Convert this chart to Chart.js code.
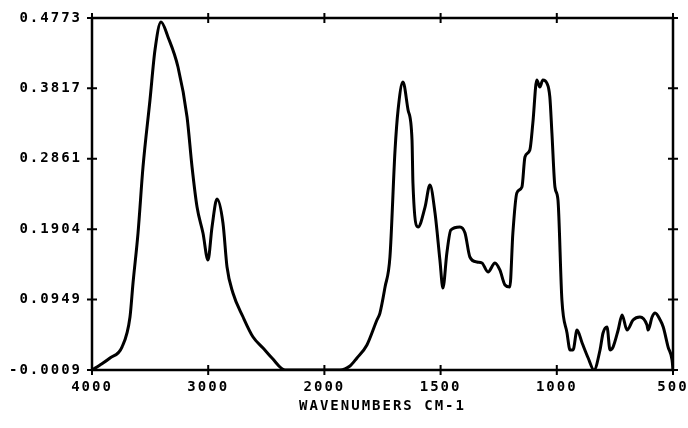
<!DOCTYPE html>
<html>
<head>
<meta charset="utf-8">
<script src="https://cdn.jsdelivr.net/npm/chart.js@4/dist/chart.umd.min.js"></script>
<style>
  html, body { margin: 0; padding: 0; background: #fff; }
  #wrap { width: 688px; height: 428px; }
</style>
</head>
<body>
<div id="wrap"><canvas id="ir"></canvas></div>
<script>
/* ── DATA ── */
const xTickValues = [4000, 3000, 2000, 1500, 1000, 500];
const xTickLabels = ['4000', '3000', '2000', '1500', '1000', '500'];
const yTickValues = [-0.0009, 0.0949, 0.1904, 0.2861, 0.3817, 0.4773];
const yTickLabels = ['-0.0009', '0.0949', '0.1904', '0.2861', '0.3817', '0.4773'];

const wavenumbers = [
  4000, 3931, 3845, 3742, 3673, 3647, 3604, 3561, 3501, 3458, 3406, 3346, 3260, 3182,
  3139, 3096, 3045, 3002, 2967, 2924, 2873, 2838, 2787, 2700, 2614, 2528, 2451, 2339,
  2209, 2037, 1933, 1890, 1860, 1817, 1774, 1761, 1739, 1718, 1696, 1683, 1662, 1640,
  1623, 1619, 1597, 1567, 1546, 1524, 1503, 1490, 1473, 1456, 1417, 1395, 1374, 1344,
  1322, 1296, 1266, 1245, 1223, 1202, 1189, 1172, 1150, 1137, 1116, 1103, 1086, 1073,
  1060, 1043, 1030, 1021, 1008, 995, 978, 956, 943, 930, 913, 891, 865, 840,
  814, 801, 784, 771, 758, 736, 719, 698, 672, 642, 612, 607, 590, 577,
  555, 542, 521, 504, 500
];
const absorbance = [
  -0.0009, 0.0059, 0.0154, 0.0303, 0.0711, 0.1173, 0.1852, 0.2749, 0.3659, 0.4338, 0.4719, 0.4515, 0.4107, 0.3428,
  0.2749, 0.2205, 0.1852, 0.1485, 0.1934, 0.2314, 0.1988, 0.1390, 0.1037, 0.0711, 0.0439, 0.0290, 0.0154, -0.0009,
  -0.0009, -0.0009, -0.0009, 0.0045, 0.0154, 0.0331, 0.0670, 0.0765, 0.1119, 0.1526, 0.2980, 0.3523, 0.3904, 0.3523,
  0.3116, 0.2531, 0.1934, 0.2205, 0.2504, 0.2124, 0.1485, 0.1105, 0.1581, 0.1893, 0.1934, 0.1852, 0.1526, 0.1458,
  0.1445, 0.1322, 0.1445, 0.1350, 0.1146, 0.1119, 0.1852, 0.2396, 0.2477, 0.2885, 0.2980, 0.3347, 0.3931, 0.3836,
  0.3931, 0.3890, 0.3700, 0.3211, 0.2477, 0.2301, 0.0942, 0.0494, 0.0263, 0.0263, 0.0534, 0.0358, 0.0154, -0.0009,
  0.0263, 0.0494, 0.0575, 0.0263, 0.0303, 0.0534, 0.0738, 0.0534, 0.0670, 0.0711, 0.0602, 0.0534, 0.0711, 0.0765,
  0.0670, 0.0575, 0.0303, 0.0127, -0.0009
];

/* piecewise axis: ticks sit evenly, scale halves below 2000 */
function toAxis(wn) {
  for (let i = 0; i < xTickValues.length - 1; i++) {
    const a = xTickValues[i], b = xTickValues[i + 1];
    if (wn <= a && wn >= b) return i + (a - wn) / (a - b);
  }
  return wn > xTickValues[0] ? 0 : xTickValues.length - 1;
}

const points = wavenumbers.map((wn, i) => ({ x: toAxis(wn), y: absorbance[i] }));

const FONT = { family: '"DejaVu Sans Mono", monospace', size: 14, weight: 'bold' };
const INK = '#000';

/* ── PLOTTER LOOK: wide lettering, frame, cross ticks ── */
const plotterPlugin = {
  id: 'plotter',
  beforeLayout(c) { c.ctx.letterSpacing = '2px'; },
  beforeDraw(c) { c.ctx.letterSpacing = '2px'; },
  afterDatasetsDraw(c) {
    const { ctx, chartArea: a, scales } = c;
    ctx.save();
    ctx.strokeStyle = INK;
    ctx.lineWidth = 2.5;
    ctx.strokeRect(a.left, a.top, a.right - a.left, a.bottom - a.top);
    ctx.lineWidth = 2;
    const t = 5;
    scales.x.ticks.forEach(tk => {
      const px = scales.x.getPixelForValue(tk.value);
      ctx.beginPath();
      ctx.moveTo(px, a.bottom - t); ctx.lineTo(px, a.bottom + t);
      ctx.moveTo(px, a.top - t); ctx.lineTo(px, a.top + t);
      ctx.stroke();
    });
    scales.y.ticks.forEach(tk => {
      const py = scales.y.getPixelForValue(tk.value);
      ctx.beginPath();
      ctx.moveTo(a.left - t, py); ctx.lineTo(a.left + t, py);
      ctx.moveTo(a.right - t, py); ctx.lineTo(a.right + t, py);
      ctx.stroke();
    });
    ctx.restore();
  }
};

new Chart(document.getElementById('ir'), {
  type: 'line',
  data: {
    datasets: [{
      data: points,
      borderColor: INK,
      borderWidth: 3,
      pointRadius: 0,
      cubicInterpolationMode: 'monotone',
      fill: false,
    }]
  },
  options: {
    responsive: true, maintainAspectRatio: false,
    animation: false,
    layout: { padding: { top: 18, right: 15, left: 0, bottom: 0 } },
    plugins: { legend: { display: false }, tooltip: { enabled: false } },
    scales: {
      x: {
        type: 'linear', min: 0, max: xTickValues.length - 1,
        afterBuildTicks: s => { s.ticks = xTickValues.map((v, i) => ({ value: i })); },
        afterFit: s => { s.height = 58; s.paddingLeft = 0; s.paddingRight = 0; },
        grid: { display: false, drawTicks: false },
        border: { display: false },
        ticks: {
          color: INK, font: FONT, padding: 9, maxRotation: 0, autoSkip: false,
          callback: (v) => xTickLabels[Math.round(v)] ?? ''
        },
        title: {
          display: true, text: 'WAVENUMBERS CM-1', color: INK, font: FONT,
          padding: { top: 4, bottom: 13 }
        }
      },
      y: {
        min: yTickValues[0], max: yTickValues[yTickValues.length - 1],
        afterBuildTicks: s => { s.ticks = yTickValues.map(v => ({ value: v })); },
        afterFit: s => { s.width = 92; s.paddingTop = 0; s.paddingBottom = 0; },
        grid: { display: false, drawTicks: false },
        border: { display: false },
        ticks: {
          color: INK, font: FONT, padding: 10, autoSkip: false,
          callback: (v) => {
            const i = yTickValues.findIndex(t => Math.abs(t - v) < 1e-6);
            return i >= 0 ? yTickLabels[i] : '';
          }
        }
      }
    }
  },
  plugins: [plotterPlugin]
});
</script>
</body>
</html>
